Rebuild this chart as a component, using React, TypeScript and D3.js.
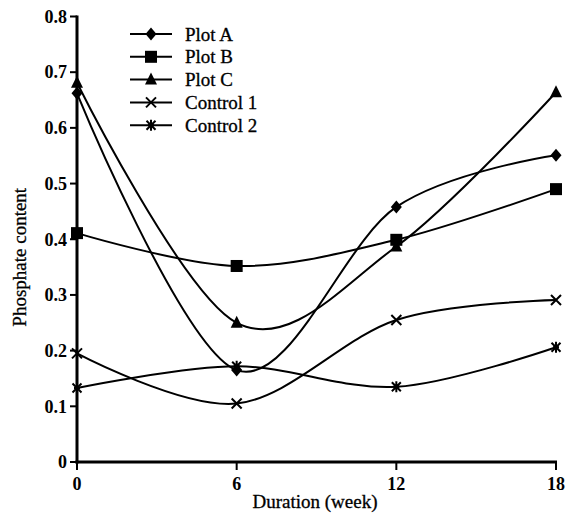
import React from 'react'
import * as d3 from 'd3'

const weeks = [0, 6, 12, 18]
const plotA = [0.662, 0.165, 0.458, 0.551]
const plotB = [0.411, 0.352, 0.399, 0.49]
const plotC = [0.681, 0.25, 0.387, 0.664]
const control1 = [0.195, 0.105, 0.255, 0.291]
const control2 = [0.133, 0.172, 0.135, 0.206]
const seriesNames = ['Plot A', 'Plot B', 'Plot C', 'Control 1', 'Control 2']
const xTicks = [0, 6, 12, 18]
const yTicks = [0, 0.1, 0.2, 0.3, 0.4, 0.5, 0.6, 0.7, 0.8]

const series = [plotA, plotB, plotC, control1, control2]
const shapes = ['diamond', 'square', 'triangle', 'cross', 'star']

const Marker = ({ kind, x, y }: { kind: string; x: number; y: number }) => {
  if (kind === 'diamond') {
    return <path d={`M${x},${y - 6.5}L${x + 5.5},${y}L${x},${y + 6.5}L${x - 5.5},${y}Z`} fill="#000" />
  }
  if (kind === 'square') {
    return <rect x={x - 6} y={y - 6} width={12} height={12} fill="#000" />
  }
  if (kind === 'triangle') {
    return <path d={`M${x},${y - 7}L${x + 6},${y + 5}L${x - 6},${y + 5}Z`} fill="#000" />
  }
  if (kind === 'cross') {
    return (
      <path
        d={`M${x - 5},${y - 5}L${x + 5},${y + 5}M${x - 5},${y + 5}L${x + 5},${y - 5}`}
        stroke="#000"
        strokeWidth={2}
      />
    )
  }
  return (
    <path
      d={`M${x - 4.5},${y - 4.5}L${x + 4.5},${y + 4.5}M${x - 4.5},${y + 4.5}L${x + 4.5},${y - 4.5}M${x},${y - 5.5}L${x},${y + 5.5}M${x - 3},${y}L${x + 3},${y}`}
      stroke="#000"
      strokeWidth={2}
    />
  )
}

const serif = "'Liberation Serif', 'Times New Roman', 'DejaVu Serif', serif"

const App = () => {
  const width = 571
  const height = 517

  const x = d3.scaleLinear().domain([0, 18]).range([77, 556])
  const y = d3.scaleLinear().domain([0, 0.8]).range([462, 16.5])

  // smooth curve through the points, like the original plotting software
  const line = d3
    .line<number>()
    .x((d, i) => x(weeks[i]))
    .y(d => y(d))
    .curve(d3.curveCardinal.tension(0))

  const bold = { fontFamily: serif, fontWeight: 'bold' as const, fontSize: '18px' }
  const plain = { fontFamily: serif, fontSize: '19px', stroke: '#000', strokeWidth: 0.3 }

  return (
    <svg width={width} height={height} style={{ position: 'absolute', left: 0, top: 0 }}>
      <rect width={width} height={height} fill="#fff" />
      {/* axes */}
      <line x1={x(0)} x2={x(0)} y1={y(0.8) - 1} y2={y(0) + 1.5} stroke="#000" strokeWidth={3} />
      <line x1={x(0) - 1.5} x2={x(18) + 1} y1={y(0)} y2={y(0)} stroke="#000" strokeWidth={3} />
      {yTicks.map(t => (
        <g key={t}>
          <line x1={x(0) - 7} x2={x(0)} y1={y(t)} y2={y(t)} stroke="#000" strokeWidth={2} />
          <text x={x(0) - 10} y={y(t)} dy="0.35em" textAnchor="end" style={bold}>
            {t === 0 ? '0' : t.toFixed(1)}
          </text>
        </g>
      ))}
      {xTicks.map(t => (
        <g key={t}>
          <line x1={x(t)} x2={x(t)} y1={y(0)} y2={y(0) + 8} stroke="#000" strokeWidth={2} />
          <text x={x(t)} y={y(0) + 28} textAnchor="middle" style={bold}>
            {t}
          </text>
        </g>
      ))}
      <text x={315} y={508} textAnchor="middle" style={plain}>
        Duration (week)
      </text>
      <text transform={`translate(26,${y(0.4) + 18}) rotate(-90)`} textAnchor="middle" style={plain}>
        Phosphate content
      </text>
      {/* series */}
      {series.map((s, i) => (
        <g key={seriesNames[i]}>
          <path d={line(s) || ''} fill="none" stroke="#000" strokeWidth={2} />
          {s.map((v, j) => (
            <Marker key={j} kind={shapes[i]} x={x(weeks[j])} y={y(v)} />
          ))}
        </g>
      ))}
      {/* legend */}
      {seriesNames.map((name, i) => {
        const ly = 34 + i * 22.8
        return (
          <g key={name}>
            <line x1={130} x2={172} y1={ly} y2={ly} stroke="#000" strokeWidth={2} />
            <Marker kind={shapes[i]} x={151} y={ly} />
            <text x={185} y={ly} dy="0.35em" style={plain}>
              {name}
            </text>
          </g>
        )
      })}
    </svg>
  )
}

export default App
